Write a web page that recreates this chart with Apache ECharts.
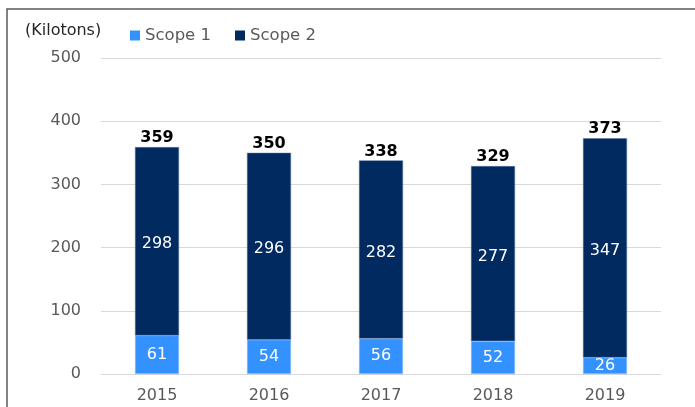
<!DOCTYPE html>
<html>
<head>
<meta charset="utf-8">
<script src="https://cdn.jsdelivr.net/npm/echarts@6/dist/echarts.min.js"></script>
<style>
html,body{margin:0;padding:0;background:#fff;}
#main{width:695px;height:407px;}
</style>
</head>
<body>
<div id="main"></div>
<script>
// 排放量数据
var years = ["2015", "2016", "2017", "2018", "2019"];
var scope1 = [61, 54, 56, 52, 26];
var scope2 = [298, 296, 282, 277, 347];
var totals = [359, 350, 338, 329, 373];

var font = "DejaVu Sans, Verdana, sans-serif";
var chart = echarts.init(document.getElementById("main"));

var option = {
    animation: false,
    textStyle: { fontFamily: font },
    graphic: [
        {
            type: 'rect',
            shape: { x: 7, y: 9, width: 720, height: 440 },
            style: { fill: 'none', stroke: '#595959', lineWidth: 1.5 }
        },
        {
            type: 'text',
            left: 25,
            top: 23,
            style: { text: '(Kilotons)', font: '16px ' + font, fill: '#262626' }
        }
    ],
    legend: {
        left: 125,
        top: 22,
        itemWidth: 10,
        itemHeight: 10,
        itemGap: 24,
        icon: 'rect',
        itemStyle: { borderWidth: 0 },
        textStyle: { color: '#595959', fontSize: 16.5, fontFamily: font },
        data: ["Scope 1", "Scope 2"]
    },
    grid: { left: 101, right: 34, top: 58, bottom: 33 },
    xAxis: {
        type: 'category',
        data: years,
        axisLine: { show: true, lineStyle: { color: '#d9d9d9' } },
        axisTick: { show: false },
        axisLabel: { color: '#595959', fontSize: 16, margin: 14 }
    },
    yAxis: {
        type: 'value',
        min: 0,
        max: 500,
        interval: 100,
        axisLine: { show: false },
        axisTick: { show: false },
        axisLabel: { color: '#595959', fontSize: 16, margin: 20 },
        splitLine: { lineStyle: { color: '#d9d9d9' } }
    },
    series: [
        {
            name: "Scope 1",
            type: 'bar',
            stack: 'total',
            barWidth: 44,
            itemStyle: { color: '#3392ff', borderColor: '#9cc7ff', borderWidth: 0.5 },
            label: { show: true, position: 'inside', color: '#fff', fontSize: 16 },
            data: scope1
        },
        {
            name: "Scope 2",
            type: 'bar',
            stack: 'total',
            barWidth: 44,
            itemStyle: { color: '#002a60', borderColor: '#5a78a0', borderWidth: 0.5 },
            label: { show: true, position: 'inside', color: '#fff', fontSize: 16, offset: [0, 3] },
            data: scope2
        },
        {
            name: "Total",
            type: 'bar',
            stack: 'total',
            barWidth: 44,
            itemStyle: { color: 'transparent' },
            label: {
                show: true,
                position: 'top',
                distance: 1,
                color: '#000',
                fontSize: 16,
                fontWeight: 'bold',
                formatter: function (p) { return totals[p.dataIndex]; }
            },
            data: [0, 0, 0, 0, 0]
        }
    ]
};
chart.setOption(option);
</script>
</body>
</html>
